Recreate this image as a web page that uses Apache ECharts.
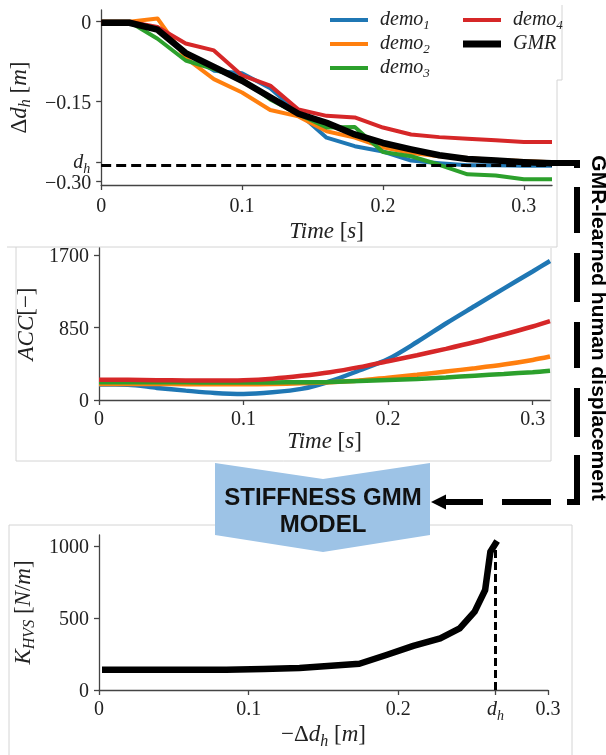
<!DOCTYPE html>
<html><head><meta charset="utf-8">
<script src="https://cdn.jsdelivr.net/npm/echarts@6/dist/echarts.min.js"></script>
<style>html,body{margin:0;padding:0;background:#fff}#c{width:606px;height:755px}</style>
</head><body><div id="c"></div>
<script>
// ---------- data ----------
const tTop = [0, 0.02, 0.04, 0.06, 0.08, 0.10, 0.12, 0.14, 0.16, 0.18, 0.20, 0.22, 0.24, 0.26, 0.28, 0.30, 0.32];
const demo1Disp = [0, 0, -0.016, -0.060, -0.092, -0.097, -0.125, -0.171, -0.218, -0.234, -0.244, -0.261, -0.266, -0.270, -0.270, -0.271, -0.271];
const demo2Disp = [0, 0, 0.006, -0.068, -0.108, -0.133, -0.166, -0.178, -0.206, -0.218, -0.236, -0.247, -0.253, -0.256, -0.260, -0.262, -0.264];
const demo3Disp = [0, 0, -0.032, -0.073, -0.089, -0.108, -0.146, -0.174, -0.199, -0.198, -0.245, -0.253, -0.269, -0.287, -0.289, -0.296, -0.296];
const demo4Disp = [0, 0, -0.010, -0.041, -0.054, -0.101, -0.120, -0.165, -0.177, -0.180, -0.199, -0.212, -0.217, -0.220, -0.223, -0.226, -0.226];
const gmrDisp   = [-0.002, -0.002, -0.015, -0.059, -0.085, -0.111, -0.142, -0.173, -0.190, -0.212, -0.228, -0.240, -0.251, -0.258, -0.261, -0.264, -0.266];

const tMid = [0, 0.02, 0.04, 0.06, 0.08, 0.10, 0.12, 0.14, 0.16, 0.18, 0.20, 0.22, 0.24, 0.26, 0.28, 0.30, 0.312];
const acc1 = [181, 180, 142, 110, 82, 71, 90, 130, 220, 346, 480, 680, 897, 1102, 1306, 1507, 1630];
const acc2 = [189, 188, 187, 186, 185, 185, 188, 195, 208, 228, 262, 296, 334, 373, 416, 470, 510];
const acc3 = [208, 208, 208, 207, 206, 206, 206, 208, 212, 222, 234, 247, 265, 285, 305, 326, 343];
const acc4 = [238, 236, 232, 229, 228, 232, 250, 283, 326, 385, 455, 525, 600, 680, 768, 862, 925];

const negDisp = [0.002, 0.05, 0.085, 0.11, 0.134, 0.174, 0.192, 0.210, 0.228, 0.241, 0.251, 0.258, 0.2615, 0.266];
const kHVS    = [140, 140, 141, 146, 152, 182, 243, 306, 359, 428, 544, 694, 960, 1035];

const dH = 0.265;          // human displacement limit
const dHKtop = 986;        // top of the vertical d_h guide in bottom chart

const topXTicks = [0, 0.1, 0.2, 0.3];
const topYTicks = [0, -0.15, -dH, -0.30];
const topYLabels = [0, -0.15, -0.30];
const midXTicks = [0, 0.1, 0.2, 0.3];
const midYTicks = [0, 850, 1700];
const botXTicks = [0, 0.1, 0.2, dH, 0.3];
const botYTicks = [0, 500, 1000];

const seriesNames = ['demo1', 'demo2', 'demo3', 'demo4', 'GMR'];
const colors = ['#1f77b4', '#ff7f0e', '#2ca02c', '#d62728', '#000000'];

// ---------- styles ----------
const SERIF = 'Liberation Serif';
const TXT = '#222';
function rich(fs) {
  const ss = Math.round(fs * 0.68);
  return {
    n: {fontFamily: SERIF, fontSize: fs, color: TXT, lineHeight: fs + 1, verticalAlign: 'top'},
    i: {fontFamily: SERIF, fontStyle: 'italic', fontSize: fs, color: TXT, lineHeight: fs + 1, verticalAlign: 'top'},
    s: {fontFamily: SERIF, fontStyle: 'italic', fontSize: ss, color: TXT,
        lineHeight: ss, padding: [Math.round(fs * 0.42), 0, 0, 0], verticalAlign: 'top'}
  };
}
const R = {
  n: {fontFamily: SERIF, fontSize: 20, color: TXT, lineHeight: 16, verticalAlign: 'top'},
  i: {fontFamily: SERIF, fontStyle: 'italic', fontSize: 20, color: TXT, lineHeight: 16, verticalAlign: 'top'},
  s: {fontFamily: SERIF, fontStyle: 'italic', fontSize: 14, color: TXT, lineHeight: 10, padding: [9, 0, 0, 0], verticalAlign: 'top'}
};
const RN = rich(23);
const axisLineStyle = {color: '#444', width: 1.3};
function fmtNum(v) {
  if (Math.abs(v) < 1e-9) return '{n|0}';
  return '{n|' + (v < 0 ? '\u2212' : '') + String(Math.abs(v)) + '}';
}
function xAx(gi, min, max, ticks, labels, nameStr, nameGap, margin, fmt) {
  return {
    type: 'value', gridIndex: gi, min: min, max: max,
    name: nameStr, nameLocation: 'middle', nameGap: nameGap,
    nameTextStyle: {rich: RN, fontFamily: SERIF, fontSize: 23, color: TXT},
    axisLine: {show: true, onZero: false, lineStyle: axisLineStyle},
    axisTick: {show: true, length: 5, lineStyle: axisLineStyle, customValues: ticks},
    axisLabel: {show: true, margin: margin, customValues: labels, rich: R, formatter: fmt,
                showMinLabel: true, showMaxLabel: true, hideOverlap: false},
    splitLine: {show: false}
  };
}
function yAx(gi, min, max, ticks, labels, nameStr, nameGap, fmt) {
  return {
    type: 'value', gridIndex: gi, min: min, max: max,
    name: nameStr, nameLocation: 'middle', nameGap: nameGap, nameRotate: 90,
    nameTextStyle: {rich: RN, fontFamily: SERIF, fontSize: 23, color: TXT},
    axisLine: {show: true, onZero: false, lineStyle: axisLineStyle},
    axisTick: {show: true, length: 5, lineStyle: axisLineStyle, customValues: ticks},
    axisLabel: {show: true, margin: 10, customValues: labels, rich: R, formatter: fmt,
                showMinLabel: true, showMaxLabel: true, hideOverlap: false},
    splitLine: {show: false}
  };
}
const fmtTime = v => fmtNum(Math.round(v * 10) / 10);
const fmtTopY = v => Math.abs(v) < 1e-9 ? '{n|0}' : '{n|\u2212' + Math.abs(v).toFixed(2) + '}';
const fmtInt = v => '{n|' + Math.round(v) + '}';
const fmtBotX = v => Math.abs(v - dH) < 1e-6 ? '{i|d}{s|h}' : fmtNum(Math.round(v * 10) / 10);

function pairs(xs, ys) { return xs.map((x, i) => [x, ys[i]]); }

const topData = [demo1Disp, demo2Disp, demo3Disp, demo4Disp, gmrDisp];
const midData = [acc1, acc2, acc3, acc4];

const series = [];
// d_h reference (top chart), labelled at the y axis
series.push({
  type: 'line', xAxisIndex: 0, yAxisIndex: 0, data: [], z: 1, silent: true,
  markLine: {silent: true, symbol: 'none',
    label: {show: true, position: 'start', distance: 11, formatter: '{i|d}{s|h}', rich: R, padding: [0, 0, 9, 0]},
    lineStyle: {type: [10, 5], width: 3, color: '#000'}, emphasis: {disabled: true},
    data: [{yAxis: -dH}]}
});
topData.forEach((d, k) => {
  series.push({
    name: seriesNames[k], type: 'line', xAxisIndex: 0, yAxisIndex: 0,
    data: pairs(tTop, d), showSymbol: false, symbol: 'none', z: k === 4 ? 5 : 3,
    lineStyle: {color: colors[k], width: k === 4 ? 6.5 : 4, join: 'round'},
    itemStyle: {color: colors[k]}
  });
});
midData.forEach((d, k) => {
  series.push({
    name: seriesNames[k] + '_acc', type: 'line', xAxisIndex: 1, yAxisIndex: 1,
    data: pairs(tMid, d), showSymbol: false, symbol: 'none', smooth: 0.3, z: 3,
    lineStyle: {color: colors[k], width: 4.5}, itemStyle: {color: colors[k]}
  });
});
series.push({
  name: 'K', type: 'line', xAxisIndex: 2, yAxisIndex: 2,
  data: pairs(negDisp, kHVS), showSymbol: false, symbol: 'none', z: 4,
  lineStyle: {color: '#000', width: 6.5, join: 'round'},
  markLine: {silent: true, symbol: 'none', label: {show: false},
    lineStyle: {type: [8, 4], width: 3, color: '#000'}, emphasis: {disabled: true},
    data: [[{coord: [dH, 0]}, {coord: [dH, dHKtop]}]]}
});

const legRich = {
  i: {fontFamily: SERIF, fontStyle: 'italic', fontSize: 20, color: '#222', lineHeight: 20, verticalAlign: 'top'},
  s: {fontFamily: SERIF, fontStyle: 'italic', fontSize: 13, color: '#222', lineHeight: 13, padding: [9, 0, 0, 0], verticalAlign: 'top'}
};
const legFmt = n => n === 'GMR' ? '{i|GMR}' : '{i|demo}{s|' + n.slice(4) + '}';
function legend(names, left, top, h) {
  return {
    data: names, left: left, top: top, orient: 'vertical', itemWidth: 38, itemHeight: h,
    itemGap: 2, icon: 'rect', selectedMode: false, formatter: legFmt, padding: 0,
    textStyle: {rich: legRich, padding: [0, 0, 0, 7]}
  };
}

const FR = '#d4d4d4';
function ln(x1, y1, x2, y2, c, w, z) {
  return {type: 'line', shape: {x1, y1, x2, y2}, style: {stroke: c, lineWidth: w}, z: z, silent: true};
}
const graphics = [
  // faint frames of the pasted panels
  ln(7, 247, 557, 247, FR, 1, 0), ln(557, 80, 557, 247, FR, 1, 0),
  ln(562, 5, 562, 80, FR, 1, 0), ln(557, 80, 562, 80, FR, 1, 0),
  ln(16, 247, 16, 461, FR, 1, 0), ln(16, 461, 551, 461, FR, 1, 0), ln(551, 248, 551, 461, FR, 1, 0),
  ln(9, 525, 572, 525, FR, 1, 0), ln(9, 525, 9, 755, FR, 1, 0), ln(572, 525, 572, 755, FR, 1, 0),
  // chevron
  {type: 'polygon', z: 20, silent: true,
   shape: {points: [[215, 463], [323, 479], [430, 463], [430, 535], [323, 552], [215, 535]]},
   style: {fill: '#9dc3e6'}},
  {type: 'text', z: 21, silent: true, x: 323, y: 512,
   style: {text: 'STIFFNESS GMM\nMODEL', font: 'bold 24px "Liberation Sans"', fill: '#111',
           align: 'center', verticalAlign: 'middle', textAlign: 'center', textVerticalAlign: 'middle', lineHeight: 27}},
  // vertical label
  {type: 'text', z: 21, silent: true, x: 598, y: 328, rotation: -Math.PI / 2,
   style: {text: 'GMR-learned human displacement', font: 'bold 21px "Liberation Sans"', fill: '#000',
           align: 'center', verticalAlign: 'middle', textAlign: 'center', textVerticalAlign: 'middle'}},
  // dashed annotation path
  {type: 'polyline', z: 21, silent: true, shape: {points: [[552, 163], [577, 163], [577, 168]]},
   style: {stroke: '#000', lineWidth: 6, fill: null}},
  ln(577, 187, 577, 233, '#000', 6, 21), ln(577, 253, 577, 302, '#000', 6, 21),
  ln(577, 322, 577, 368, '#000', 6, 21), ln(577, 388, 577, 437, '#000', 6, 21),
  {type: 'polyline', z: 21, silent: true, shape: {points: [[577, 455], [577, 502], [567, 502]]},
   style: {stroke: '#000', lineWidth: 6, fill: null}},
  ln(551, 502, 502, 502, '#000', 6, 21), ln(483, 502, 442, 502, '#000', 6, 21),
  {type: 'polygon', z: 21, silent: true, shape: {points: [[431, 502], [446, 494.5], [446, 509.5]]},
   style: {fill: '#000'}}
];

const option = {
  animation: false,
  backgroundColor: '#fff',
  grid: [
    {left: 100, top: 10, width: 452, height: 175},
    {left: 99, top: 248, width: 451, height: 152},
    {left: 99, top: 535, width: 449, height: 155}
  ],
  xAxis: [
    xAx(0, 0, 0.32, topXTicks, topXTicks, '{i|Time} {n|[}{i|s}{n|]}', 35, 12, fmtTime),
    xAx(1, 0, 0.312, midXTicks, midXTicks, '{i|Time} {n|[}{i|s}{n|]}', 29, 10, fmtTime),
    xAx(2, 0, 0.3, botXTicks, botXTicks, '{n|\u2212\u0394}{i|d}{s|h} {n|[}{i|m}{n|]}', 26, 10, fmtBotX)
  ],
  yAxis: [
    yAx(0, -0.307, 0.022, topYTicks, topYLabels, '{n|\u0394}{i|d}{s|h} {n|[}{i|m}{n|]}', 59, fmtTopY),
    yAx(1, 0, 1782, midYTicks, midYTicks, '{i|ACC}{n|[\u2212]}', 51, fmtInt),
    yAx(2, 0, 1076, botYTicks, botYTicks, '{i|K}{s|HVS} {n|[}{i|N}{n|/}{i|m}{n|]}', 45, fmtInt)
  ],
  legend: [
    legend(['demo1', 'demo2', 'demo3'], 330, 10, 4),
    legend(['demo4'], 463, 10, 4),
    legend(['GMR'], 463, 34, 7)
  ],
  series: series,
  graphic: {elements: graphics}
};
const chart = echarts.init(document.getElementById('c'), null, {renderer: 'canvas'});
chart.setOption(option);
</script>
</body></html>
